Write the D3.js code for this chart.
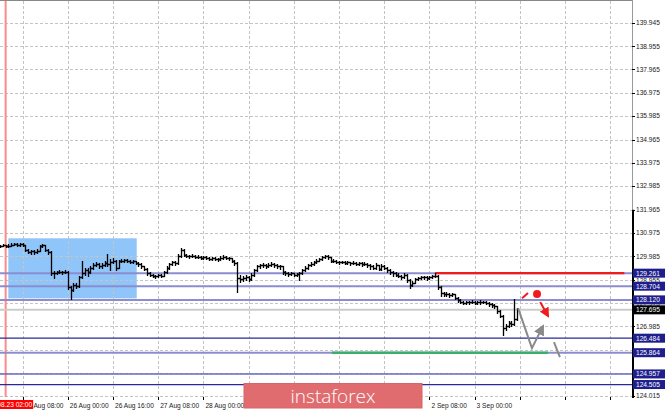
<!DOCTYPE html>
<html><head><meta charset="utf-8">
<script src="https://cdn.jsdelivr.net/npm/d3@7"></script>
<style>html,body{margin:0;padding:0;background:#fff;overflow:hidden}</style>
</head><body>
<svg id="c" width="665" height="413"></svg>
<script>
// ---- data (hourly bars, index 0 = 2019.08.23 00:00) ----
const barOpen = [130.40,130.42,130.45,130.40,130.44,130.48,130.50,130.46,130.52,130.47,
130.25,130.18,130.20,130.15,130.22,130.42,130.45,130.25,130.15,129.26,
129.28,129.30,129.32,129.30,129.33,128.66,128.55,128.75,128.70,129.10,
129.25,129.40,129.30,129.50,129.60,129.65,129.55,129.60,129.70,129.65,
129.75,129.80,129.50,129.78,129.80,129.82,129.78,129.75,129.76,129.70,
129.65,129.55,129.45,129.25,129.20,129.15,129.12,129.18,129.15,129.30,
129.50,129.65,129.72,129.70,130.00,130.25,130.05,130.00,129.98,130.00,
129.95,129.96,129.93,129.95,129.90,129.88,129.90,129.87,129.86,129.92,
129.95,129.93,129.90,129.80,129.70,129.05,129.00,129.05,129.10,129.00,
129.20,129.40,129.55,129.60,129.62,129.58,129.60,129.65,129.60,129.58,
129.55,129.30,129.25,129.22,129.25,129.20,129.22,129.25,129.40,129.50,
129.60,129.65,129.72,129.80,129.85,129.95,130.00,129.95,129.80,129.78,
129.75,129.72,129.74,129.70,129.72,129.68,129.70,129.66,129.68,129.65,
129.66,129.60,129.55,129.50,129.60,129.45,129.55,129.50,129.40,129.30,
129.25,129.20,129.15,129.10,129.20,128.95,128.75,128.85,129.00,129.05,
129.08,129.10,129.05,129.10,129.12,129.15,128.65,128.40,128.35,128.38,
128.32,128.35,128.20,128.10,128.05,128.00,128.03,128.02,128.05,128.00,
128.03,128.02,128.04,128.00,127.95,127.90,127.85,127.65,127.45,126.90,
127.00,127.15,127.10,127.30];
const barHigh = [130.48,130.50,130.47,130.49,130.53,130.56,130.53,130.57,130.54,130.48,
130.28,130.26,130.24,130.28,130.48,130.52,130.46,130.30,130.20,129.36,
129.36,129.38,129.36,129.40,129.35,128.70,128.82,128.85,129.15,129.78,
129.48,129.50,129.58,129.68,129.72,129.68,129.68,129.76,130.06,129.85,
129.92,129.82,129.84,129.86,129.88,129.86,129.82,129.82,129.80,129.74,
129.68,129.58,129.48,129.30,129.24,129.20,129.24,129.22,129.36,129.56,
129.70,129.80,129.78,130.08,130.33,130.28,130.10,130.05,130.06,130.03,
130.02,130.00,130.01,129.98,129.95,129.96,129.94,129.92,129.98,130.02,
130.00,129.97,129.92,129.84,129.72,129.20,129.12,129.18,129.14,129.26,
129.46,129.62,129.66,129.70,129.66,129.68,129.72,129.70,129.65,129.62,
129.56,129.34,129.30,129.30,129.28,129.28,129.32,129.46,129.56,129.66,
129.72,129.78,129.86,129.92,130.00,130.05,130.02,129.96,129.86,129.82,
129.80,129.80,129.78,129.78,129.75,129.76,129.73,129.74,129.72,129.72,
129.70,129.65,129.62,129.68,129.62,129.64,129.60,129.54,129.44,129.36,
129.30,129.26,129.20,129.26,129.22,129.00,128.92,129.06,129.10,129.14,
129.15,129.12,129.15,129.18,129.26,129.18,128.70,128.45,128.44,128.42,
128.40,128.38,128.24,128.14,128.08,128.08,128.08,128.10,128.08,128.08,
128.10,128.08,128.06,128.04,127.98,127.94,127.88,127.70,127.48,127.10,
127.22,127.22,128.15,127.78];
const barLow = [130.38,130.40,130.36,130.38,130.42,130.45,130.42,130.44,130.42,130.20,
130.12,130.10,130.08,130.12,130.20,130.38,130.20,130.10,129.20,129.05,
129.22,129.25,129.24,129.26,128.60,128.15,128.50,128.62,128.68,129.05,
129.20,129.12,129.25,129.45,129.55,129.48,129.50,129.55,129.58,129.40,
129.68,129.39,129.48,129.72,129.75,129.72,129.70,129.70,129.64,129.58,
129.48,129.38,129.20,129.12,129.08,129.05,129.08,129.08,129.12,129.26,
129.46,129.60,129.62,129.66,129.95,129.98,129.94,129.92,129.94,129.90,
129.90,129.88,129.88,129.85,129.82,129.84,129.82,129.80,129.84,129.88,
129.88,129.84,129.74,129.62,128.45,128.90,128.92,128.98,128.94,128.96,
129.15,129.36,129.50,129.54,129.50,129.52,129.56,129.54,129.50,129.45,
129.24,129.20,129.16,129.18,129.15,129.16,128.97,129.22,129.36,129.46,
129.55,129.60,129.68,129.76,129.82,129.90,129.88,129.74,129.72,129.70,
129.66,129.68,129.64,129.66,129.62,129.64,129.60,129.62,129.58,129.60,
129.54,129.46,129.42,129.44,129.38,129.40,129.42,129.32,129.22,129.16,
129.12,129.08,129.02,129.06,128.88,128.63,128.70,128.82,128.96,129.00,
129.02,128.98,129.02,129.05,129.08,128.58,128.30,128.28,128.30,128.26,
128.28,128.14,128.02,127.98,127.95,127.96,127.96,127.98,127.94,127.96,
127.96,127.98,127.94,127.88,127.82,127.78,127.58,127.38,126.62,126.85,
126.95,127.00,127.05,127.25];
const barClose = [130.42,130.45,130.40,130.44,130.48,130.50,130.46,130.52,130.47,130.25,
130.18,130.20,130.15,130.22,130.42,130.45,130.25,130.15,129.26,129.28,
129.30,129.32,129.30,129.33,128.66,128.55,128.75,128.70,129.10,129.25,
129.40,129.30,129.50,129.60,129.65,129.55,129.60,129.70,129.65,129.75,
129.80,129.50,129.78,129.80,129.82,129.78,129.75,129.76,129.70,129.65,
129.55,129.45,129.25,129.20,129.15,129.12,129.18,129.15,129.30,129.50,
129.65,129.72,129.70,130.00,130.25,130.05,130.00,129.98,130.00,129.95,
129.96,129.93,129.95,129.90,129.88,129.90,129.87,129.86,129.92,129.95,
129.93,129.90,129.80,129.70,129.05,129.00,129.05,129.10,129.00,129.20,
129.40,129.55,129.60,129.62,129.58,129.60,129.65,129.60,129.58,129.55,
129.30,129.25,129.22,129.25,129.20,129.22,129.25,129.40,129.50,129.60,
129.65,129.72,129.80,129.85,129.95,130.00,129.95,129.80,129.78,129.75,
129.72,129.74,129.70,129.72,129.68,129.70,129.66,129.68,129.65,129.66,
129.60,129.55,129.50,129.60,129.45,129.55,129.50,129.40,129.30,129.25,
129.20,129.15,129.10,129.20,128.95,128.75,128.85,129.00,129.05,129.08,
129.10,129.05,129.10,129.12,129.15,128.65,128.40,128.35,128.38,128.32,
128.35,128.20,128.10,128.05,128.00,128.03,128.02,128.05,128.00,128.03,
128.02,128.04,128.00,127.95,127.90,127.85,127.65,127.45,126.90,127.00,
127.15,127.10,127.30,127.70];

const timeTickIndex = [8,24,40,56,72,88,104,120,136,152,168,184,200,216];
// labels hidden behind the logo in the reference are left empty
const timeTickLabels = ["23 Aug 08:00","26 Aug 00:00","26 Aug 16:00","27 Aug 08:00","28 Aug 00:00",
  "","","","","2 Sep 08:00","3 Sep 00:00","","",""];
const priceTicks = [139.945,138.955,137.965,136.975,135.985,134.965,133.975,132.985,131.965,
  130.975,129.985,128.955,127.975,126.985,125.995,125.005,124.015];
const priceTickLabels = ["139.945","138.955","137.965","136.975","135.985","134.965","133.975","132.985","131.965",
  "130.975","129.985","128.955","127.975","126.985","","","124.015"];

const levelValues = [129.261,128.704,128.120,126.484,125.864,124.957,124.505];
const levelLabels = ["129.261","128.704","128.120","126.484","125.864","124.957","124.505"];
const bidPrice = 127.695, bidLabel = "127.695";
const vlineIndex = 2, vlineLabel = "2019.08.23 02:00";
const zoneIdx = [2.95, 48.4], zonePrice = [128.185, 130.75];
const resistIdx = [154, 221], resistPrice = 129.261;
const supportIdx = [117.5, 194], supportPrice = 125.864;
const grayPath = [[183.4,127.77],[188.3,126.06],[192.2,127.00]];
const grayDash = [[196.1,126.32],[198.2,125.68]];
const redTick = [[184.8,128.19],[186.9,128.41]];
const redDot = [190.1,128.37];
const redArrow = [[191.2,128.03],[194.0,127.43]];

// ---- drawing ----
const svg = d3.select("#c");
const plotR = 632, plotB = 397;
const x = d3.scaleLinear().domain([0,224]).range([0,632.8]);
const y = d3.scaleLinear().domain([124.015,139.945]).range([396,23]);
const FONT = "'Liberation Sans', Arial, sans-serif";
const px = v => Math.round(v)+0.5;

svg.append("rect").attr("width",665).attr("height",413).attr("fill","#fff");

// zone
svg.append("rect").attr("x",x(zoneIdx[0])).attr("y",y(zonePrice[1]))
  .attr("width",x(zoneIdx[1])-x(zoneIdx[0])).attr("height",y(zonePrice[0])-y(zonePrice[1]))
  .attr("fill","#8fc5f8");

// grid
const g = svg.append("g").attr("stroke","#c4c4c4").attr("stroke-dasharray","3,2")
  .attr("shape-rendering","crispEdges");
g.selectAll("line.h").data(priceTicks).join("line")
  .attr("x1",0).attr("x2",plotR).attr("y1",d=>px(y(d))).attr("y2",d=>px(y(d)));
g.selectAll("line.v").data(timeTickIndex).join("line").attr("class","v")
  .attr("x1",d=>px(x(d))).attr("x2",d=>px(x(d))).attr("y1",1).attr("y2",plotB);

// red vertical line
svg.append("line").attr("x1",x(vlineIndex)).attr("x2",x(vlineIndex)).attr("y1",0).attr("y2",plotB)
  .attr("stroke","#ff8a8a").attr("stroke-width",2);

// horizontal levels
const levelColors = ["#8c8cd0","#8c8cd0","#8c8cd0","#2a2a96","#8c8cd0","#6a6abf","#2a2a96"];
const levelWidths = [2,2,2,1.3,2,1.5,1.3];
svg.append("g").selectAll("line").data(levelValues).join("line")
  .attr("x1",0).attr("x2",plotR).attr("y1",d=>y(d)).attr("y2",d=>y(d))
  .attr("stroke",(d,i)=>levelColors[i]).attr("stroke-width",(d,i)=>levelWidths[i]);
svg.append("line").attr("x1",0).attr("x2",plotR).attr("y1",y(bidPrice)).attr("y2",y(bidPrice))
  .attr("stroke","#cccccc").attr("stroke-width",2);
svg.append("line").attr("x1",x(resistIdx[0])).attr("x2",x(resistIdx[1]))
  .attr("y1",y(resistPrice)).attr("y2",y(resistPrice)).attr("stroke","#f01c1c").attr("stroke-width",2.2);
svg.append("line").attr("x1",x(supportIdx[0])).attr("x2",x(supportIdx[1]))
  .attr("y1",y(supportPrice)).attr("y2",y(supportPrice)).attr("stroke","#3aae6a").attr("stroke-width",2.6);

// bars
const bars = barClose.map((c,i)=>({i,o:barOpen[i],h:barHigh[i],l:barLow[i],c}));
svg.append("g").attr("stroke","#000").attr("stroke-width",1.3).attr("fill","none")
  .selectAll("path").data(bars).join("path")
  .attr("d",d=>{const xx=px(x(d.i));
    return `M${xx},${Math.round(y(d.h))}V${Math.round(y(d.l))+1}`+
      `M${xx-1.5},${px(y(d.o))}H${xx}M${xx},${px(y(d.c))}H${xx+1.5}`;});

// arrows
const defs = svg.append("defs");
defs.append("marker").attr("id","gh").attr("viewBox","0 0 10 10").attr("refX",8).attr("refY",5)
  .attr("markerWidth",11).attr("markerHeight",11).attr("markerUnits","userSpaceOnUse").attr("orient","auto")
  .append("path").attr("d","M0,0L10,5L0,10Z").attr("fill","#8a8a8a");
defs.append("marker").attr("id","rh").attr("viewBox","0 0 10 10").attr("refX",8).attr("refY",5)
  .attr("markerWidth",10).attr("markerHeight",10).attr("markerUnits","userSpaceOnUse").attr("orient","auto")
  .append("path").attr("d","M0,0L10,5L0,10Z").attr("fill","#f01c1c");
const lineGen = d3.line().x(d=>x(d[0])).y(d=>y(d[1]));
svg.append("path").attr("d",lineGen(grayPath)).attr("fill","none").attr("stroke","#8a8a8a")
  .attr("stroke-width",2).attr("marker-end","url(#gh)");
svg.append("path").attr("d",lineGen(grayDash)).attr("fill","none").attr("stroke","#8a8a8a").attr("stroke-width",2);
svg.append("path").attr("d",lineGen(redTick)).attr("fill","none").attr("stroke","#f01c1c").attr("stroke-width",2);
svg.append("circle").attr("cx",x(redDot[0])).attr("cy",y(redDot[1])).attr("r",4).attr("fill","#f01c1c");
svg.append("path").attr("d",lineGen(redArrow)).attr("fill","none").attr("stroke","#f01c1c")
  .attr("stroke-width",2).attr("marker-end","url(#rh)");

// frame
svg.append("line").attr("x1",0).attr("x2",plotR+1).attr("y1",0.5).attr("y2",0.5).attr("stroke","#888");
svg.append("line").attr("x1",plotR+0.5).attr("x2",plotR+0.5).attr("y1",0).attr("y2",y(131.965))
  .attr("stroke","#999");
svg.append("line").attr("x1",plotR+1).attr("x2",plotR+1).attr("y1",y(131.965)).attr("y2",plotB+1)
  .attr("stroke","#000").attr("stroke-width",2);

// price axis ticks + labels
const ax = svg.append("g").attr("font-family",FONT).attr("font-size","6.6px").attr("fill","#222");
ax.selectAll("line").data(priceTicks).join("line").attr("x1",plotR).attr("x2",plotR+3)
  .attr("y1",d=>px(y(d))).attr("y2",d=>px(y(d))).attr("stroke","#000").attr("shape-rendering","crispEdges");
ax.selectAll("text").data(priceTicks).join("text").attr("x",plotR+4).attr("y",d=>y(d)+2.4)
  .text((d,i)=>priceTickLabels[i]);

// boxed level labels
const bx = svg.append("g").attr("font-family",FONT).attr("font-size","6.6px");
const boxes = levelValues.map((v,i)=>({v,t:levelLabels[i],bg:"#1e1e8c"})).concat([{v:bidPrice,t:bidLabel,bg:"#000"}]);
bx.selectAll("rect").data(boxes).join("rect").attr("x",plotR+1).attr("y",d=>y(d.v)-4.5)
  .attr("width",33).attr("height",9).attr("fill",d=>d.bg);
bx.selectAll("text").data(boxes).join("text").attr("x",plotR+4).attr("y",d=>y(d.v)+2.4)
  .attr("fill","#fff").text(d=>d.t);

// time axis
const tx = svg.append("g").attr("font-family",FONT).attr("font-size","6.6px").attr("fill","#222");
tx.selectAll("line").data(timeTickIndex).join("line").attr("x1",d=>px(x(d))).attr("x2",d=>px(x(d)))
  .attr("y1",plotB).attr("y2",plotB+3).attr("stroke","#000").attr("shape-rendering","crispEdges");
tx.selectAll("text").data(timeTickIndex).join("text").attr("x",d=>x(d)+2).attr("y",407.5)
  .text((d,i)=>timeTickLabels[i]);
svg.append("rect").attr("x",0).attr("y",400).attr("width",x(vlineIndex)+27.5).attr("height",9).attr("fill","#ff0000");
svg.append("text").attr("x",x(vlineIndex)+26.5).attr("y",407.3).attr("text-anchor","end")
  .attr("font-family",FONT).attr("font-size","6.6px").attr("fill","#fff").text(vlineLabel);

// logo
svg.append("rect").attr("x",244).attr("y",383.5).attr("width",178).attr("height",24.5)
  .attr("fill","#e16c70").attr("stroke","#d96468").attr("stroke-width",1);
svg.append("text").attr("x",333).attr("y",403).attr("text-anchor","middle")
  .attr("font-family","'Open Sans', 'Noto Sans', sans-serif").attr("font-weight",300)
  .attr("font-size","19px").attr("fill","#fff").text("instaforex");
</script>
</body></html>
